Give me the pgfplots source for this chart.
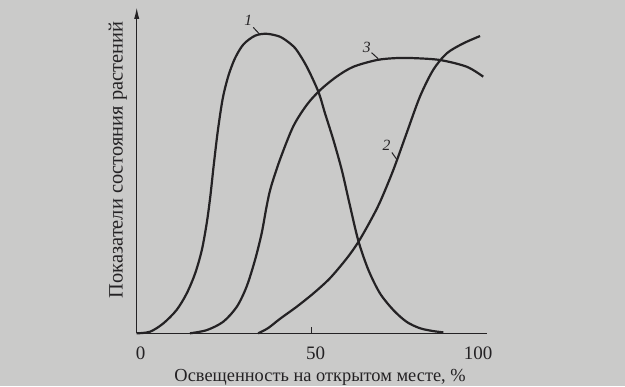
\documentclass[border=0pt]{standalone}
\usepackage{fontspec}
\setmainfont{Liberation Serif}
\usepackage{pgfplots}
\pgfplotsset{compat=1.18}
\usetikzlibrary{arrows.meta}
\definecolor{bg}{RGB}{202,202,201}
\definecolor{ink}{RGB}{36,34,36}
\begin{document}
\begin{tikzpicture}
\fill[bg] (-68.355pt,-26.352pt) rectangle (244.14pt,166.66pt);
\begin{axis}[
  at={(0pt,0pt)}, anchor=origin,
  x=1.75pt, y=1.6pt,
  xmin=0, xmax=100, ymin=0, ymax=102,
  axis x line=bottom, axis y line=left,
  x axis line style={-, ink, line width=0.7pt},
  y axis line style={-{Latex[length=6pt,width=2.6pt]}, ink, line width=0.7pt},
  xtick={0,50}, ytick=\empty,
  extra x ticks={100},
  extra x tick style={major tick length=0pt, xticklabel style={xshift=-6.3pt}},
  tick align=inside, major tick length=3pt,
  tick style={ink, line width=0.6pt},
  /pgf/number format/assume math mode=true,
  xticklabel style={font=\fontsize{9.5}{11}\selectfont, text=ink, yshift=-3pt, xshift=2pt},
  xlabel={Освещенность на открытом месте, \%},
  ylabel={Показатели состояния растений},
  every axis x label/.style={at={(axis description cs:0.524,0)}, anchor=center, yshift=-22pt, font=\fontsize{9.2}{11}\selectfont, text=ink},
  every axis y label/.style={at={(axis description cs:0,0.531)}, xshift=-9.5pt, rotate=90, anchor=center, font=\fontsize{10.2}{12}\selectfont, text=ink},
  clip=false,
]
% curve 1
\addplot[ink, line width=1.1pt, smooth] coordinates {
(0,0) (3.8,0.5) (7.6,3.1) (11.4,7.3) (14.3,12.5) (16.7,18.75) (18.6,26) (20,34.4) (21,42.5) (22,52.5) (23.2,63.5) (24.6,73.5) (26.2,80.5) (28.1,86) (30.5,90.3) (33.8,93) (37.1,93.6) (40.9,92.7) (43.8,90.6) (45.7,88.5) (48.6,83.3) (51.9,75.5) (53.8,68.75) (56.2,60.4) (58.6,51) (60.7,41) (63.3,29) (66.2,19.8) (69.5,12.5) (73.3,7.3) (77.1,3.6) (80.9,1.6) (84.7,0.7) (87.6,0.3)
};
% curve 3
\addplot[ink, line width=1.1pt, smooth] coordinates {
(15.2,0) (20,1) (24.7,3.6) (28.6,8.3) (31.4,14.6) (33.8,22.9) (35.7,31.25) (37.1,39.6) (38.3,45.5) (40.9,54.2) (44.7,64.6) (48.6,71.4) (52.4,76) (57.1,80.2) (61.9,83.3) (68.6,85.4) (74,86) (79,86) (86.7,85.4) (94.3,83.3) (99,80.2)
};
% curve 2
\addplot[ink, line width=1.1pt, smooth] coordinates {
(34.7,0) (37.5,1.6) (40.9,4.5) (45.7,8.3) (50.5,12.5) (55.2,17.2) (60,23.4) (63.3,28.5) (66.7,35) (69.5,41) (73.3,51) (77.1,62.5) (80.9,73.9) (84.7,82.3) (88.6,87.5) (93.3,90.6) (98.1,92.9)
};
\draw[ink, line width=0.5pt] (axis cs:33.3,95.6) -- (axis cs:35.0,93.6);
\draw[ink, line width=0.5pt] (axis cs:67.1,87.7) -- (axis cs:69,85.8);
\draw[ink, line width=0.5pt] (axis cs:72.9,56.5) -- (axis cs:74.4,54.2);
\node[text=ink, font=\fontsize{7.8}{9}\selectfont\itshape] at (axis cs:31.9,97.9) {1};
\node[text=ink, font=\fontsize{7.8}{9}\selectfont\itshape] at (axis cs:65.7,89.3) {3};
\node[text=ink, font=\fontsize{7.8}{9}\selectfont\itshape] at (axis cs:71.4,58.6) {2};
\end{axis}
\pgfresetboundingbox
\path (-68.355pt,-26.352pt) rectangle (244.14pt,166.66pt);
\end{tikzpicture}
\end{document}
